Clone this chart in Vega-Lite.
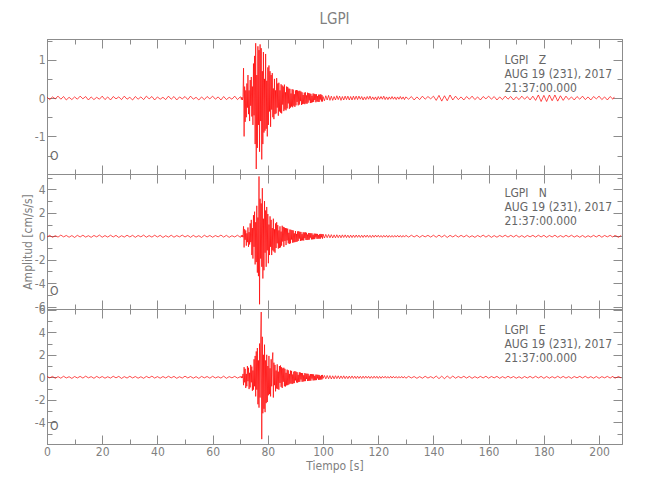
{
"$schema":"https://vega.github.io/schema/vega-lite/v6.json",
"padding":{"left":20,"top":11,"right":5,"bottom":5},
"config":{
 "font":"DejaVu Sans Condensed, Roboto, sans-serif",
 "view":{"stroke":"#8c8c8c","strokeWidth":1},
 "axis":{"domainColor":"#8c8c8c","tickColor":"#8c8c8c","labelColor":"#808080","titleColor":"#808080","labelFontSize":12,"titleFontSize":12,"titleFontWeight":"normal","labelFontWeight":"normal","grid":false,"labelFont":"DejaVu Sans Condensed, Roboto, sans-serif","titleFont":"DejaVu Sans Condensed, Roboto, sans-serif","labelFlush":false,"labelOverlap":false,"labelBound":false},
 "title":{"font":"DejaVu Sans Condensed, Roboto, sans-serif","fontWeight":"normal","color":"#808080"}
},
"data":{"values":[
{"t":0,"z":0.02,"n":-0.06,"e":0.07},{"t":1,"z":-0.04,"n":0.08,"e":-0.05},{"t":2,"z":0.03,"n":-0.09,"e":0.08},{"t":3,"z":-0.02,"n":0.05,"e":-0.09},{"t":4,"z":0.05,"n":-0.07,"e":0.06},{"t":5,"z":-0.03,"n":0.1,"e":-0.08},{"t":6,"z":0.04,"n":-0.05,"e":0.09},{"t":7,"z":-0.05,"n":0.07,"e":-0.06},{"t":8,"z":0.02,"n":-0.08,"e":0.05},{"t":9,"z":-0.04,"n":0.06,"e":-0.1},
{"t":10,"z":0.03,"n":-0.1,"e":0.07},{"t":11,"z":-0.03,"n":0.08,"e":-0.06},{"t":12,"z":0.05,"n":-0.06,"e":0.08},{"t":13,"z":-0.02,"n":0.09,"e":-0.07},{"t":14,"z":0.04,"n":-0.07,"e":0.1},{"t":15,"z":-0.05,"n":0.05,"e":-0.05},{"t":16,"z":0.03,"n":-0.09,"e":0.06},{"t":17,"z":-0.04,"n":0.07,"e":-0.09},{"t":18,"z":0.02,"n":-0.05,"e":0.08},{"t":19,"z":-0.03,"n":0.1,"e":-0.06},
{"t":20,"z":0.05,"n":-0.08,"e":0.07},{"t":21,"z":-0.04,"n":0.06,"e":-0.08},{"t":22,"z":0.03,"n":-0.07,"e":0.05},{"t":23,"z":-0.05,"n":0.09,"e":-0.07},{"t":24,"z":0.04,"n":-0.06,"e":0.09},{"t":25,"z":-0.02,"n":0.08,"e":-0.05},{"t":26,"z":0.03,"n":-0.1,"e":0.08},{"t":27,"z":-0.04,"n":0.05,"e":-0.1},{"t":28,"z":0.05,"n":-0.07,"e":0.06},{"t":29,"z":-0.03,"n":0.09,"e":-0.07},
{"t":30,"z":0.02,"n":-0.06,"e":0.09},{"t":31,"z":-0.05,"n":0.08,"e":-0.06},{"t":32,"z":0.04,"n":-0.09,"e":0.07},{"t":33,"z":-0.03,"n":0.07,"e":-0.08},{"t":34,"z":0.03,"n":-0.05,"e":0.05},{"t":35,"z":-0.04,"n":0.1,"e":-0.09},{"t":36,"z":0.05,"n":-0.08,"e":0.08},{"t":37,"z":-0.02,"n":0.06,"e":-0.05},{"t":38,"z":0.04,"n":-0.07,"e":0.1},{"t":39,"z":-0.05,"n":0.09,"e":-0.07},
{"t":40,"z":0.03,"n":-0.06,"e":0.06},{"t":41,"z":-0.03,"n":0.08,"e":-0.08},{"t":42,"z":0.02,"n":-0.1,"e":0.07},{"t":43,"z":-0.04,"n":0.05,"e":-0.06},{"t":44,"z":0.05,"n":-0.07,"e":0.09},{"t":45,"z":-0.03,"n":0.09,"e":-0.05},{"t":46,"z":0.04,"n":-0.08,"e":0.08},{"t":47,"z":-0.05,"n":0.06,"e":-0.09},{"t":48,"z":0.03,"n":-0.05,"e":0.05},{"t":49,"z":-0.02,"n":0.1,"e":-0.07},
{"t":50,"z":0.04,"n":-0.06,"e":0.1},{"t":51,"z":-0.04,"n":0.07,"e":-0.06},{"t":52,"z":0.05,"n":-0.09,"e":0.07},{"t":53,"z":-0.03,"n":0.08,"e":-0.08},{"t":54,"z":0.02,"n":-0.07,"e":0.06},{"t":55,"z":-0.05,"n":0.05,"e":-0.1},{"t":56,"z":0.03,"n":-0.1,"e":0.08},{"t":57,"z":-0.04,"n":0.09,"e":-0.05},{"t":58,"z":0.04,"n":-0.06,"e":0.07},{"t":59,"z":-0.02,"n":0.07,"e":-0.08},
{"t":60,"z":0.05,"n":-0.08,"e":0.09},{"t":61,"z":-0.03,"n":0.06,"e":-0.06},{"t":62,"z":0.03,"n":-0.05,"e":0.05},{"t":63,"z":-0.05,"n":0.1,"e":-0.07},{"t":64,"z":0.04,"n":-0.07,"e":0.1},{"t":65,"z":-0.04,"n":0.08,"e":-0.09},{"t":66,"z":0.02,"n":-0.09,"e":0.06},{"t":67,"z":-0.03,"n":0.05,"e":-0.05},{"t":68,"z":0.05,"n":-0.06,"e":0.08},{"t":69,"z":-0.04,"n":0.09,"e":-0.07},
{"t":70,"z":0.03,"n":-0.08,"e":0.05},
{"t":70.2,"z":0.03,"n":-0.07,"e":0.06},{"t":70.4,"z":-0.04,"n":0.08,"e":-0.07},{"t":70.6,"z":0.02,"n":-0.06,"e":0.09},{"t":70.8,"z":-0.05,"n":0.09,"e":-0.05},{"t":71.0,"z":0.04,"n":-0.08,"e":0.3},
{"t":71.2,"z":0.78,"n":0.85,"e":-0.7},{"t":71.4,"z":-1.0,"n":-0.95,"e":0.9},{"t":71.6,"z":0.3,"n":0.6,"e":-0.45},{"t":71.8,"z":-0.62,"n":-0.3,"e":0.75},{"t":72.0,"z":0.2,"n":0.5,"e":-0.95},
{"t":72.2,"z":-0.5,"n":-0.8,"e":0.3},{"t":72.4,"z":0.38,"n":0.25,"e":-0.8},{"t":72.6,"z":-0.25,"n":-0.5,"e":1.0},{"t":72.8,"z":0.6,"n":0.75,"e":-0.35},{"t":73.0,"z":-0.42,"n":-0.9,"e":0.85},
{"t":73.2,"z":0.2,"n":0.35,"e":-1.05},{"t":73.4,"z":-0.6,"n":-0.7,"e":0.4},{"t":73.6,"z":0.47,"n":1.1,"e":-0.9},{"t":73.8,"z":-0.2,"n":-0.5,"e":1.1},{"t":74.0,"z":0.55,"n":1.4,"e":-0.45},
{"t":74.2,"z":-0.48,"n":-1.6,"e":0.95},{"t":74.4,"z":0.3,"n":0.7,"e":-1.2},{"t":74.6,"z":-0.7,"n":-1.9,"e":0.6},{"t":74.8,"z":0.9,"n":1.8,"e":-1.1},{"t":75.0,"z":-0.45,"n":-0.9,"e":1.6},
{"t":75.2,"z":1.1,"n":2.1,"e":-0.8},{"t":75.4,"z":-1.2,"n":-2.4,"e":1.9},{"t":75.6,"z":1.43,"n":1.2,"e":-1.7},{"t":75.8,"z":-1.85,"n":-2.2,"e":2.3},{"t":76.0,"z":0.6,"n":2.6,"e":-1.1},
{"t":76.2,"z":-1.3,"n":-3.1,"e":2.6},{"t":76.4,"z":1.35,"n":1.6,"e":-2.4},{"t":76.6,"z":-0.7,"n":-3.4,"e":1.5},{"t":76.8,"z":1.25,"n":5.1,"e":-2.7},{"t":77.0,"z":-1.4,"n":-5.8,"e":3.0},
{"t":77.2,"z":1.4,"n":3.2,"e":-1.8},{"t":77.4,"z":-0.6,"n":-1.9,"e":3.4},{"t":77.6,"z":1.3,"n":2.8,"e":5.8},{"t":77.8,"z":-1.6,"n":-2.6,"e":-5.5},{"t":78.0,"z":0.7,"n":4.1,"e":3.6},
{"t":78.2,"z":-1.2,"n":-3.6,"e":-3.2},{"t":78.4,"z":1.2,"n":1.5,"e":2.0},{"t":78.6,"z":-0.9,"n":-2.9,"e":-2.8},{"t":78.8,"z":0.5,"n":3.0,"e":2.9},{"t":79.0,"z":-0.85,"n":-1.4,"e":-3.1},
{"t":79.2,"z":1.15,"n":2.2,"e":1.5},{"t":79.4,"z":-0.8,"n":-2.6,"e":-2.3},{"t":79.6,"z":0.45,"n":2.5,"e":2.0},{"t":79.8,"z":-1.0,"n":-1.2,"e":-2.2},{"t":80.0,"z":0.8,"n":1.9,"e":1.0},
{"t":80.2,"z":-0.7,"n":-2.3,"e":-1.6},{"t":80.4,"z":0.85,"n":1.0,"e":1.9},{"t":80.6,"z":-0.35,"n":-1.6,"e":-1.5},{"t":80.8,"z":0.7,"n":1.7,"e":0.8},{"t":81.0,"z":-0.75,"n":-0.9,"e":-1.7},
{"t":81.2,"z":0.6,"n":1.4,"e":1.6},{"t":81.4,"z":-0.3,"n":-1.6,"e":-0.8},{"t":81.6,"z":0.65,"n":0.7,"e":1.5},{"t":81.8,"z":-0.5,"n":-1.2,"e":2.2},{"t":82.0,"z":0.25,"n":1.5,"e":-1.8},
{"t":82.2,"z":-0.55,"n":-1.3,"e":1.3},{"t":82.4,"z":0.5,"n":0.6,"e":-0.7},{"t":82.6,"z":-0.42,"n":-1.4,"e":1.1},{"t":82.8,"z":0.2,"n":1.1,"e":-1.25},{"t":83.0,"z":-0.4,"n":-1.0,"e":0.6},
{"t":83.2,"z":0.52,"n":1.2,"e":-1.0},{"t":83.4,"z":-0.25,"n":-0.6,"e":1.15},{"t":83.6,"z":0.38,"n":0.95,"e":-1.05},{"t":83.8,"z":-0.46,"n":-1.05,"e":0.5},{"t":84.0,"z":0.4,"n":0.5,"e":-1.1},
{"t":84.2,"z":-0.35,"n":-1.0,"e":1.0},{"t":84.4,"z":0.2,"n":0.85,"e":-0.5},{"t":84.6,"z":-0.38,"n":-0.95,"e":1.05},{"t":84.8,"z":0.36,"n":0.4,"e":-0.85},{"t":85.0,"z":-0.4,"n":-0.8,"e":0.9},
{"t":85.2,"z":0.33,"n":0.9,"e":-0.95},{"t":85.4,"z":-0.17,"n":-0.45,"e":0.8},{"t":85.6,"z":0.3,"n":0.8,"e":-0.4},{"t":85.8,"z":-0.34,"n":-0.9,"e":0.85},{"t":86.0,"z":0.35,"n":0.75,"e":-0.8},
{"t":86.2,"z":-0.3,"n":-0.4,"e":0.75},{"t":86.4,"z":0.15,"n":0.7,"e":-0.82},{"t":86.6,"z":-0.32,"n":-0.75,"e":0.4},{"t":86.8,"z":0.3,"n":0.68,"e":-0.72},{"t":87.0,"z":-0.27,"n":-0.35,"e":0.68},
{"t":87.2,"z":0.29,"n":0.65,"e":-0.7},{"t":87.4,"z":-0.14,"n":-0.6,"e":0.62},{"t":87.6,"z":0.25,"n":0.3,"e":-0.65},{"t":87.8,"z":-0.28,"n":-0.65,"e":0.3},{"t":88.0,"z":0.24,"n":0.58,"e":-0.58},
{"t":88.2,"z":-0.25,"n":-0.6,"e":0.6},{"t":88.4,"z":0.12,"n":0.55,"e":-0.55},{"t":88.6,"z":-0.22,"n":-0.28,"e":0.57},{"t":88.8,"z":0.23,"n":0.52,"e":-0.6},{"t":89.0,"z":-0.24,"n":-0.55,"e":0.25},
{"t":89.2,"z":0.22,"n":0.5,"e":-0.54},{"t":89.4,"z":-0.2,"n":-0.52,"e":0.5},{"t":89.6,"z":0.1,"n":0.25,"e":-0.52},{"t":89.8,"z":-0.23,"n":-0.5,"e":0.55},{"t":90.0,"z":0.2,"n":0.45,"e":-0.28},
{"t":90.2,"z":-0.19,"n":-0.48,"e":0.5},{"t":90.4,"z":0.21,"n":0.2,"e":-0.46},{"t":90.6,"z":-0.1,"n":-0.46,"e":0.45},{"t":90.8,"z":0.2,"n":0.42,"e":-0.48},{"t":91.0,"z":-0.19,"n":-0.4,"e":0.22},
{"t":91.2,"z":0.18,"n":0.43,"e":-0.42},{"t":91.4,"z":-0.17,"n":-0.2,"e":0.45},{"t":91.6,"z":0.19,"n":0.38,"e":-0.4},{"t":91.8,"z":-0.08,"n":-0.4,"e":0.42},{"t":92.0,"z":0.17,"n":0.37,"e":-0.2},
{"t":92.2,"z":-0.18,"n":-0.36,"e":0.38},{"t":92.4,"z":0.15,"n":0.18,"e":-0.4},{"t":92.6,"z":-0.16,"n":-0.35,"e":0.37},{"t":92.8,"z":0.08,"n":0.34,"e":-0.38},{"t":93.0,"z":-0.15,"n":-0.36,"e":0.18},
{"t":93.2,"z":0.14,"n":0.33,"e":-0.35},{"t":93.4,"z":-0.16,"n":-0.16,"e":0.37},{"t":93.6,"z":0.15,"n":0.34,"e":-0.34},{"t":93.8,"z":-0.14,"n":-0.31,"e":0.33},{"t":94.0,"z":0.07,"n":0.3,"e":-0.15},
{"t":94.2,"z":-0.15,"n":-0.32,"e":0.32},{"t":94.4,"z":0.14,"n":0.15,"e":-0.33},{"t":94.6,"z":-0.12,"n":-0.3,"e":0.31},{"t":94.8,"z":0.13,"n":0.28,"e":-0.32},{"t":95.0,"z":-0.06,"n":-0.29,"e":0.15},
{"t":95.2,"z":0.12,"n":0.27,"e":-0.31},{"t":95.4,"z":-0.13,"n":-0.12,"e":0.29},{"t":95.6,"z":0.11,"n":0.26,"e":-0.3},{"t":95.8,"z":-0.12,"n":-0.27,"e":0.28},{"t":96.0,"z":0.06,"n":0.25,"e":-0.12},
{"t":96.2,"z":-0.11,"n":-0.26,"e":0.27},{"t":96.4,"z":0.12,"n":0.12,"e":-0.28},{"t":96.6,"z":-0.1,"n":-0.25,"e":0.26},{"t":96.8,"z":0.11,"n":0.23,"e":-0.27},{"t":97.0,"z":-0.05,"n":-0.24,"e":0.12},
{"t":97.2,"z":0.1,"n":0.22,"e":-0.26},{"t":97.4,"z":-0.11,"n":-0.1,"e":0.24},{"t":97.6,"z":0.1,"n":0.21,"e":-0.25},{"t":97.8,"z":-0.09,"n":-0.22,"e":0.23},{"t":98.0,"z":0.05,"n":0.2,"e":-0.1},
{"t":98.2,"z":-0.1,"n":-0.21,"e":0.22},{"t":98.4,"z":0.09,"n":0.1,"e":-0.23},{"t":98.6,"z":-0.1,"n":-0.2,"e":0.21},{"t":98.8,"z":0.09,"n":0.19,"e":-0.22},{"t":99.0,"z":-0.04,"n":-0.21,"e":0.1},
{"t":99.2,"z":0.1,"n":0.2,"e":-0.21},{"t":99.4,"z":-0.09,"n":-0.09,"e":0.2},{"t":99.6,"z":0.08,"n":0.18,"e":-0.19},{"t":99.8,"z":-0.09,"n":-0.2,"e":0.21},{"t":100.0,"z":0.04,"n":0.19,"e":-0.1},
{"t":100.5,"z":-0.07,"n":-0.15,"e":0.16},{"t":101,"z":0.06,"n":0.16,"e":-0.14},{"t":101.5,"z":-0.05,"n":-0.12,"e":0.16},{"t":102,"z":0.07,"n":0.15,"e":-0.13},{"t":102.5,"z":-0.06,"n":-0.13,"e":0.15},
{"t":103,"z":0.05,"n":0.14,"e":-0.15},{"t":103.5,"z":-0.06,"n":-0.14,"e":0.13},{"t":104,"z":0.04,"n":0.12,"e":-0.14},{"t":104.5,"z":-0.05,"n":-0.13,"e":0.14},{"t":105,"z":0.06,"n":0.13,"e":-0.12},
{"t":105.5,"z":-0.04,"n":-0.12,"e":0.13},{"t":106,"z":0.05,"n":0.11,"e":-0.13},{"t":106.5,"z":-0.06,"n":-0.13,"e":0.12},{"t":107,"z":0.04,"n":0.12,"e":-0.11},{"t":107.5,"z":-0.05,"n":-0.1,"e":0.13},
{"t":108,"z":0.05,"n":0.12,"e":-0.12},{"t":108.5,"z":-0.04,"n":-0.11,"e":0.1},{"t":109,"z":0.05,"n":0.1,"e":-0.12},{"t":109.5,"z":-0.05,"n":-0.12,"e":0.11},{"t":110,"z":0.04,"n":0.1,"e":-0.1},
{"t":110.5,"z":-0.05,"n":-0.11,"e":0.12},{"t":111,"z":0.05,"n":0.1,"e":-0.1},{"t":111.5,"z":-0.04,"n":-0.1,"e":0.1},{"t":112,"z":0.05,"n":0.11,"e":-0.11},{"t":112.5,"z":-0.04,"n":-0.09,"e":0.1},
{"t":113,"z":0.05,"n":0.1,"e":-0.1},{"t":113.5,"z":-0.03,"n":-0.1,"e":0.09},{"t":114,"z":0.04,"n":0.09,"e":-0.1},{"t":114.5,"z":-0.05,"n":-0.1,"e":0.1},{"t":115,"z":0.03,"n":0.1,"e":-0.09},
{"t":115.5,"z":-0.04,"n":-0.08,"e":0.1},{"t":116,"z":0.04,"n":0.1,"e":-0.08},{"t":116.5,"z":-0.03,"n":-0.09,"e":0.09},{"t":117,"z":0.05,"n":0.08,"e":-0.1},{"t":117.5,"z":-0.04,"n":-0.1,"e":0.08},
{"t":118,"z":0.03,"n":0.09,"e":-0.09},{"t":118.5,"z":-0.04,"n":-0.08,"e":0.1},{"t":119,"z":0.03,"n":0.1,"e":-0.08},{"t":119.5,"z":-0.05,"n":-0.07,"e":0.09},{"t":120,"z":0.04,"n":0.09,"e":-0.1},
{"t":120.5,"z":-0.03,"n":-0.08,"e":0.08},{"t":121,"z":0.04,"n":0.07,"e":-0.09},{"t":121.5,"z":-0.03,"n":-0.09,"e":0.08},{"t":122,"z":0.05,"n":0.08,"e":-0.07},{"t":122.5,"z":-0.04,"n":-0.07,"e":0.09},
{"t":123,"z":0.03,"n":0.08,"e":-0.08},{"t":123.5,"z":-0.04,"n":-0.09,"e":0.07},{"t":124,"z":0.03,"n":0.07,"e":-0.08},{"t":124.5,"z":-0.03,"n":-0.08,"e":0.09},{"t":125,"z":0.04,"n":0.07,"e":-0.07},
{"t":125.5,"z":-0.03,"n":-0.08,"e":0.08},{"t":126,"z":0.03,"n":0.07,"e":-0.07},{"t":126.5,"z":-0.04,"n":-0.07,"e":0.07},{"t":127,"z":0.03,"n":0.08,"e":-0.08},{"t":127.5,"z":-0.03,"n":-0.07,"e":0.07},
{"t":128,"z":0.04,"n":0.07,"e":-0.07},{"t":128.5,"z":-0.03,"n":-0.08,"e":0.08},{"t":129,"z":0.03,"n":0.07,"e":-0.07},{"t":129.5,"z":-0.04,"n":-0.07,"e":0.07},{"t":130,"z":0.03,"n":0.08,"e":-0.08},
{"t":131,"z":-0.03,"n":-0.07,"e":0.08},{"t":132,"z":0.04,"n":0.09,"e":-0.06},{"t":133,"z":-0.05,"n":-0.06,"e":0.07},{"t":134,"z":0.03,"n":0.08,"e":-0.09},{"t":135,"z":-0.04,"n":-0.09,"e":0.06},
{"t":136,"z":0.05,"n":0.07,"e":-0.08},{"t":137,"z":-0.03,"n":-0.05,"e":0.09},{"t":138,"z":0.04,"n":0.08,"e":-0.07},{"t":139,"z":-0.02,"n":-0.07,"e":0.06},{"t":140,"z":0.05,"n":0.09,"e":-0.08},
{"t":141,"z":-0.06,"n":-0.08,"e":0.11},{"t":142,"z":0.07,"n":0.1,"e":-0.12},{"t":143,"z":-0.08,"n":-0.07,"e":0.1},{"t":144,"z":0.06,"n":0.09,"e":-0.13},{"t":145,"z":-0.07,"n":-0.1,"e":0.12},
{"t":146,"z":0.08,"n":0.08,"e":-0.1},{"t":147,"z":-0.05,"n":-0.06,"e":0.11},{"t":148,"z":0.05,"n":0.09,"e":-0.08},{"t":149,"z":-0.04,"n":-0.07,"e":0.07},{"t":150,"z":0.03,"n":0.08,"e":-0.06},
{"t":151,"z":-0.05,"n":-0.06,"e":0.09},{"t":152,"z":0.04,"n":0.09,"e":-0.07},{"t":153,"z":-0.03,"n":-0.08,"e":0.08},{"t":154,"z":0.05,"n":0.05,"e":-0.09},{"t":155,"z":-0.04,"n":-0.09,"e":0.06},
{"t":156,"z":0.03,"n":0.07,"e":-0.07},{"t":157,"z":-0.05,"n":-0.06,"e":0.08},{"t":158,"z":0.04,"n":0.1,"e":-0.06},{"t":159,"z":-0.02,"n":-0.07,"e":0.09},{"t":160,"z":0.05,"n":0.08,"e":-0.08},
{"t":161,"z":-0.03,"n":-0.09,"e":0.07},{"t":162,"z":0.04,"n":0.06,"e":-0.05},{"t":163,"z":-0.05,"n":-0.08,"e":0.08},{"t":164,"z":0.03,"n":0.07,"e":-0.09},{"t":165,"z":-0.04,"n":-0.05,"e":0.06},
{"t":166,"z":0.05,"n":0.09,"e":-0.07},{"t":167,"z":-0.03,"n":-0.07,"e":0.09},{"t":168,"z":0.04,"n":0.08,"e":-0.06},{"t":169,"z":-0.05,"n":-0.06,"e":0.07},{"t":170,"z":0.03,"n":0.09,"e":-0.08},
{"t":171,"z":-0.04,"n":-0.08,"e":0.05},{"t":172,"z":0.05,"n":0.06,"e":-0.09},{"t":173,"z":-0.03,"n":-0.09,"e":0.07},{"t":174,"z":0.04,"n":0.07,"e":-0.06},{"t":175,"z":-0.05,"n":-0.05,"e":0.08},
{"t":176,"z":0.05,"n":0.08,"e":-0.07},{"t":177,"z":-0.06,"n":-0.07,"e":0.09},{"t":178,"z":0.08,"n":0.09,"e":-0.06},{"t":179,"z":-0.09,"n":-0.06,"e":0.08},{"t":180,"z":0.07,"n":0.08,"e":-0.09},
{"t":181,"z":-0.09,"n":-0.09,"e":0.07},{"t":182,"z":0.08,"n":0.07,"e":-0.08},{"t":183,"z":-0.07,"n":-0.06,"e":0.06},{"t":184,"z":0.08,"n":0.09,"e":-0.07},{"t":185,"z":-0.08,"n":-0.08,"e":0.09},
{"t":186,"z":0.06,"n":0.06,"e":-0.06},{"t":187,"z":-0.06,"n":-0.07,"e":0.08},{"t":188,"z":0.05,"n":0.08,"e":-0.07},{"t":189,"z":-0.04,"n":-0.05,"e":0.06},{"t":190,"z":0.03,"n":0.09,"e":-0.09},
{"t":191,"z":-0.05,"n":-0.07,"e":0.07},{"t":192,"z":0.04,"n":0.06,"e":-0.05},{"t":193,"z":-0.03,"n":-0.08,"e":0.08},{"t":194,"z":0.05,"n":0.07,"e":-0.06},{"t":195,"z":-0.04,"n":-0.09,"e":0.09},
{"t":196,"z":0.03,"n":0.05,"e":-0.07},{"t":197,"z":-0.05,"n":-0.07,"e":0.06},{"t":198,"z":0.04,"n":0.08,"e":-0.08},{"t":199,"z":-0.02,"n":-0.06,"e":0.07},{"t":200,"z":0.05,"n":0.09,"e":-0.09},
{"t":201,"z":-0.04,"n":-0.08,"e":0.06},{"t":202,"z":0.03,"n":0.07,"e":-0.05},{"t":203,"z":-0.05,"n":-0.05,"e":0.08},{"t":204,"z":0.04,"n":0.08,"e":-0.07},{"t":205,"z":-0.03,"n":-0.07,"e":0.09},
{"t":205.5,"z":0.03,"n":0.05,"e":-0.05},{"t":206,"z":null,"n":0.06,"e":-0.06},{"t":207,"z":null,"n":-0.09,"e":0.07},{"t":208,"z":null,"n":0.07,"e":-0.06}
]},
"spacing":0,
"bounds":"flush",
"vconcat":[
{
 "width":575,"height":135,
 "title":{"text":"LGPI","anchor":"middle","frame":"group","fontSize":15,"offset":8,"color":"#808080"},
 "layer":[
  {"mark":{"type":"line","color":"#ff0000","strokeWidth":0.7},
   "encoding":{
    "x":{"field":"t","type":"quantitative","scale":{"domain":[0,208.3],"nice":false,"zero":false},
     "axis":{"orient":"bottom","title":null,"labels":false,"values":[0,10,20,30,40,50,60,70,80,90,100,110,120,130,140,150,160,170,180,190,200],"tickSize":{"condition":{"test":"datum.value % 20 === 0","value":-9},"value":-5}}},
    "y":{"field":"z","type":"quantitative","scale":{"domain":[-1.98,1.54],"nice":false,"zero":false},
     "axis":{"orient":"left","title":null,"values":[-1.5,-1,-0.5,0,0.5,1,1.5],"labelExpr":"datum.value % 1 === 0 ? '' + datum.value : ''","labelPadding":11,"tickSize":{"condition":{"test":"datum.value % 1 === 0","value":-9},"value":-5}}}}},
  {"data":{"values":[{}]},
   "mark":{"type":"text","align":"left","baseline":"middle","lineHeight":14,"fontSize":12,"color":"#666666"},
   "encoding":{
    "x":{"datum":165.7,"type":"quantitative","scale":{"domain":[0,208.3],"nice":false,"zero":false},
     "axis":{"orient":"top","title":null,"labels":false,"values":[0,10,20,30,40,50,60,70,80,90,100,110,120,130,140,150,160,170,180,190,200],"tickSize":{"condition":{"test":"datum.value % 20 === 0","value":-9},"value":-5}}},
    "y":{"datum":0.99,"type":"quantitative","scale":{"domain":[-1.98,1.54],"nice":false,"zero":false},
     "axis":{"orient":"right","title":null,"labels":false,"values":[-1.5,-1,-0.5,0,0.5,1,1.5],"tickSize":{"condition":{"test":"datum.value % 1 === 0","value":-9},"value":-5}}},
    "text":{"value":["LGPI\u00a0\u00a0\u00a0Z","AUG 19 (231), 2017","21:37:00.000"]}}},
  {"data":{"values":[{}]},
   "mark":{"type":"text","align":"center","baseline":"middle","fontSize":12,"color":"#666666"},
   "encoding":{
    "x":{"datum":2.6,"type":"quantitative","scale":{"domain":[0,208.3],"nice":false,"zero":false},"axis":null},
    "y":{"datum":-1.51,"type":"quantitative","scale":{"domain":[-1.98,1.54],"nice":false,"zero":false},"axis":null},
    "text":{"value":"O"}}}
 ],
 "resolve":{"axis":{"x":"independent","y":"independent"}}
},
{
 "width":575,"height":135,
 "layer":[
  {"mark":{"type":"line","color":"#ff0000","strokeWidth":0.7},
   "encoding":{
    "x":{"field":"t","type":"quantitative","scale":{"domain":[0,208.3],"nice":false,"zero":false},
     "axis":{"orient":"bottom","title":null,"labels":false,"values":[0,10,20,30,40,50,60,70,80,90,100,110,120,130,140,150,160,170,180,190,200],"tickSize":{"condition":{"test":"datum.value % 20 === 0","value":-9},"value":-5}}},
    "y":{"field":"n","type":"quantitative","scale":{"domain":[-6.2,5.31],"nice":false,"zero":false},
     "axis":{"orient":"left","title":"Amplitud [cm/s/s]","titlePadding":0,"values":[-6,-5,-4,-3,-2,-1,0,1,2,3,4,5],"labelExpr":"datum.value % 2 === 0 ? '' + datum.value : ''","labelPadding":11,"tickSize":{"condition":{"test":"datum.value % 2 === 0","value":-9},"value":-5}}}}},
  {"data":{"values":[{}]},
   "mark":{"type":"text","align":"left","baseline":"middle","lineHeight":14,"fontSize":12,"color":"#666666"},
   "encoding":{
    "x":{"datum":165.7,"type":"quantitative","scale":{"domain":[0,208.3],"nice":false,"zero":false},
     "axis":{"orient":"top","title":null,"labels":false,"values":[0,10,20,30,40,50,60,70,80,90,100,110,120,130,140,150,160,170,180,190,200],"tickSize":{"condition":{"test":"datum.value % 20 === 0","value":-9},"value":-5}}},
    "y":{"datum":3.66,"type":"quantitative","scale":{"domain":[-6.2,5.31],"nice":false,"zero":false},
     "axis":{"orient":"right","title":null,"labels":false,"values":[-6,-5,-4,-3,-2,-1,0,1,2,3,4,5],"tickSize":{"condition":{"test":"datum.value % 2 === 0","value":-9},"value":-5}}},
    "text":{"value":["LGPI\u00a0\u00a0\u00a0N","AUG 19 (231), 2017","21:37:00.000"]}}},
  {"data":{"values":[{}]},
   "mark":{"type":"text","align":"center","baseline":"middle","fontSize":12,"color":"#666666"},
   "encoding":{
    "x":{"datum":2.6,"type":"quantitative","scale":{"domain":[0,208.3],"nice":false,"zero":false},"axis":null},
    "y":{"datum":-4.63,"type":"quantitative","scale":{"domain":[-6.2,5.31],"nice":false,"zero":false},"axis":null},
    "text":{"value":"O"}}}
 ],
 "resolve":{"axis":{"x":"independent","y":"independent"}}
},
{
 "width":575,"height":135,
 "layer":[
  {"mark":{"type":"line","color":"#ff0000","strokeWidth":0.7},
   "encoding":{
    "x":{"field":"t","type":"quantitative","scale":{"domain":[0,208.3],"nice":false,"zero":false},
     "axis":{"orient":"bottom","title":"Tiempo [s]","titlePadding":-1,"values":[0,10,20,30,40,50,60,70,80,90,100,110,120,130,140,150,160,170,180,190,200],"labelExpr":"datum.value % 20 === 0 ? datum.label : ''","labelPadding":11,"tickSize":{"condition":{"test":"datum.value % 20 === 0","value":-9},"value":-5}}},
    "y":{"field":"e","type":"quantitative","scale":{"domain":[-5.93,6.07],"nice":false,"zero":false},
     "axis":{"orient":"left","title":null,"values":[-5,-4,-3,-2,-1,0,1,2,3,4,5,6],"labelExpr":"datum.value % 2 === 0 ? '' + datum.value : ''","labelPadding":11,"tickSize":{"condition":{"test":"datum.value % 2 === 0","value":-9},"value":-5}}}}},
  {"data":{"values":[{}]},
   "mark":{"type":"text","align":"left","baseline":"middle","lineHeight":14,"fontSize":12,"color":"#666666"},
   "encoding":{
    "x":{"datum":165.7,"type":"quantitative","scale":{"domain":[0,208.3],"nice":false,"zero":false},
     "axis":{"orient":"top","title":null,"labels":false,"values":[0,10,20,30,40,50,60,70,80,90,100,110,120,130,140,150,160,170,180,190,200],"tickSize":{"condition":{"test":"datum.value % 20 === 0","value":-9},"value":-5}}},
    "y":{"datum":4.2,"type":"quantitative","scale":{"domain":[-5.93,6.07],"nice":false,"zero":false},
     "axis":{"orient":"right","title":null,"labels":false,"values":[-5,-4,-3,-2,-1,0,1,2,3,4,5,6],"tickSize":{"condition":{"test":"datum.value % 2 === 0","value":-9},"value":-5}}},
    "text":{"value":["LGPI\u00a0\u00a0\u00a0E","AUG 19 (231), 2017","21:37:00.000"]}}},
  {"data":{"values":[{}]},
   "mark":{"type":"text","align":"center","baseline":"middle","fontSize":12,"color":"#666666"},
   "encoding":{
    "x":{"datum":2.6,"type":"quantitative","scale":{"domain":[0,208.3],"nice":false,"zero":false},"axis":null},
    "y":{"datum":-4.3,"type":"quantitative","scale":{"domain":[-5.93,6.07],"nice":false,"zero":false},"axis":null},
    "text":{"value":"O"}}}
 ],
 "resolve":{"axis":{"x":"independent","y":"independent"}}
}
]
}
